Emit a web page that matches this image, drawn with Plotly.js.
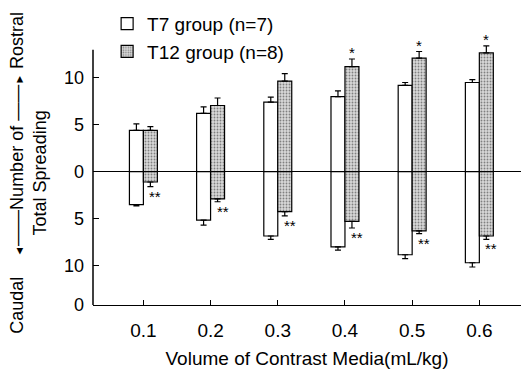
<!DOCTYPE html>
<html>
<head>
<meta charset="utf-8">
<script src="https://cdn.plot.ly/plotly-3.0.1.min.js"></script>
<style>html,body{margin:0;padding:0;background:#fff;}#chart{width:521px;height:369px;}</style>
</head>
<body>
<div id="chart"></div>
<script>
const categories = ['0.1', '0.2', '0.3', '0.4', '0.5', '0.6'];
const seriesNames = ['T7 group (n=7)', 'T12 group (n=8)'];
const t7Rostral = [4.4, 6.2, 7.4, 8.0, 9.2, 9.5];
const t7RostralErr = [0.7, 0.7, 0.55, 0.6, 0.3, 0.3];
const t12Rostral = [4.4, 7.05, 9.65, 11.2, 12.1, 12.65];
const t12RostralErr = [0.4, 0.8, 0.8, 0.8, 0.7, 0.75];
const t7Caudal = [-3.5, -5.15, -6.85, -8.0, -8.85, -9.7];
const t7CaudalErr = [0.15, 0.55, 0.35, 0.35, 0.4, 0.45];
const t12Caudal = [-1.1, -2.9, -4.25, -5.3, -6.3, -6.85];
const t12CaudalErr = [0.5, 0.3, 0.45, 0.7, 0.3, 0.35];
const rostralMarks = ['', '', '', '*', '*', '*'];
const caudalMarks = ['**', '**', '**', '**', '**', '**'];
const yTickVals = [10, 5, 0, -5, -10, -14.2];
const yTickText = ['10', '5', '0', '5', '10', '0'];

const FONT = 'Liberation Sans, Arial, Helvetica, sans-serif';
const BW = 0.208;
const zeros = categories.map(() => 0);

const whiteMarker = {color: '#ffffff', line: {color: '#000', width: 1.2}};
const grayMarker = {
  color: '#c0c0c0',
  line: {color: '#000', width: 1.2},
  pattern: {shape: '.', fgcolor: '#808080', bgcolor: '#d9d9d9', size: 3, solidity: 0.3}
};
const errStyle = {color: '#000', thickness: 1.2, width: 3};

const traces = [
  {type: 'bar', x: categories, y: t7Rostral, name: seriesNames[0], width: BW, offset: -BW,
   marker: whiteMarker, showlegend: true,
   error_y: Object.assign({type: 'data', symmetric: false, array: t7RostralErr, arrayminus: zeros}, errStyle)},
  {type: 'bar', x: categories, y: t12Rostral, name: seriesNames[1], width: BW, offset: 0,
   marker: grayMarker, showlegend: true,
   error_y: Object.assign({type: 'data', symmetric: false, array: t12RostralErr, arrayminus: zeros}, errStyle)},
  {type: 'bar', x: categories, y: t7Caudal, name: seriesNames[0], width: BW, offset: -BW,
   marker: whiteMarker, showlegend: false,
   error_y: Object.assign({type: 'data', symmetric: false, array: zeros, arrayminus: t7CaudalErr}, errStyle)},
  {type: 'bar', x: categories, y: t12Caudal, name: seriesNames[1], width: BW, offset: 0,
   marker: grayMarker, showlegend: false,
   error_y: Object.assign({type: 'data', symmetric: false, array: zeros, arrayminus: t12CaudalErr}, errStyle)}
];

const annotations = [];
categories.forEach((c, i) => {
  if (rostralMarks[i]) {
    annotations.push({x: i + BW / 2, y: t12Rostral[i] + t12RostralErr[i], xref: 'x', yref: 'y',
      text: rostralMarks[i], showarrow: false, xanchor: 'center', yanchor: 'bottom', yshift: -4,
      font: {family: FONT, size: 15, color: '#000'}});
  }
  if (caudalMarks[i]) {
    annotations.push({x: i + BW / 2, y: t12Caudal[i] - t12CaudalErr[i], xref: 'x', yref: 'y',
      text: caudalMarks[i], showarrow: false, xanchor: 'center', yanchor: 'top', xshift: 5, yshift: 1,
      font: {family: FONT, size: 15, color: '#000'}});
  }
});
annotations.push({
  xref: 'paper', yref: 'paper', x: -0.1498, y: 0.506, textangle: -90,
  text: 'Caudal    <span style="font-size:11px">\u25C4</span>\u2014\u2014Number of \u2014\u2014<span style="font-size:11px">\u25BA</span> Rostral<br>Total Spreading',
  showarrow: false, xanchor: 'center', yanchor: 'middle', align: 'center',
  font: {family: FONT, size: 18, color: '#000'}
});

const layout = {
  width: 521, height: 369,
  margin: {l: 93, r: 0, t: 44, b: 64, pad: 0},
  paper_bgcolor: '#fff', plot_bgcolor: '#fff',
  font: {family: FONT, color: '#000'},
  barmode: 'overlay',
  showlegend: true,
  legend: {x: 0.033, y: 1.15, xanchor: 'left', yanchor: 'top', bgcolor: 'rgba(0,0,0,0)',
    font: {family: FONT, size: 19, color: '#000'}, tracegroupgap: 0},
  xaxis: {
    type: 'category', range: [-0.75, 5.62], showgrid: false, zeroline: false,
    showline: true, linecolor: '#000', linewidth: 1.2,
    ticks: 'inside', ticklen: 5, tickcolor: '#000', tickwidth: 1,
    ticklabelstandoff: 8,
    tickfont: {family: FONT, size: 19, color: '#000'},
    title: {text: 'Volume of Contrast Media(mL/kg)', font: {family: FONT, size: 19, color: '#000'}, standoff: 11}
  },
  yaxis: {
    range: [-14.2, 13.6], showgrid: false, showline: false,
    zeroline: true, zerolinecolor: '#000', zerolinewidth: 1.2,
    tickmode: 'array', tickvals: yTickVals, ticktext: yTickText,
    ticks: 'inside', ticklen: 6, tickcolor: '#000', tickwidth: 1.2,
    ticklabelstandoff: 8,
    tickfont: {family: FONT, size: 18, color: '#000'}
  },
  shapes: [
    {type: 'line', xref: 'paper', yref: 'y', x0: 0, x1: 0, y0: -14.2, y1: 13.0,
     line: {color: '#000', width: 1.5}}
  ],
  annotations: annotations
};

Plotly.newPlot('chart', traces, layout, {staticPlot: true, displayModeBar: false});
</script>
</body>
</html>
